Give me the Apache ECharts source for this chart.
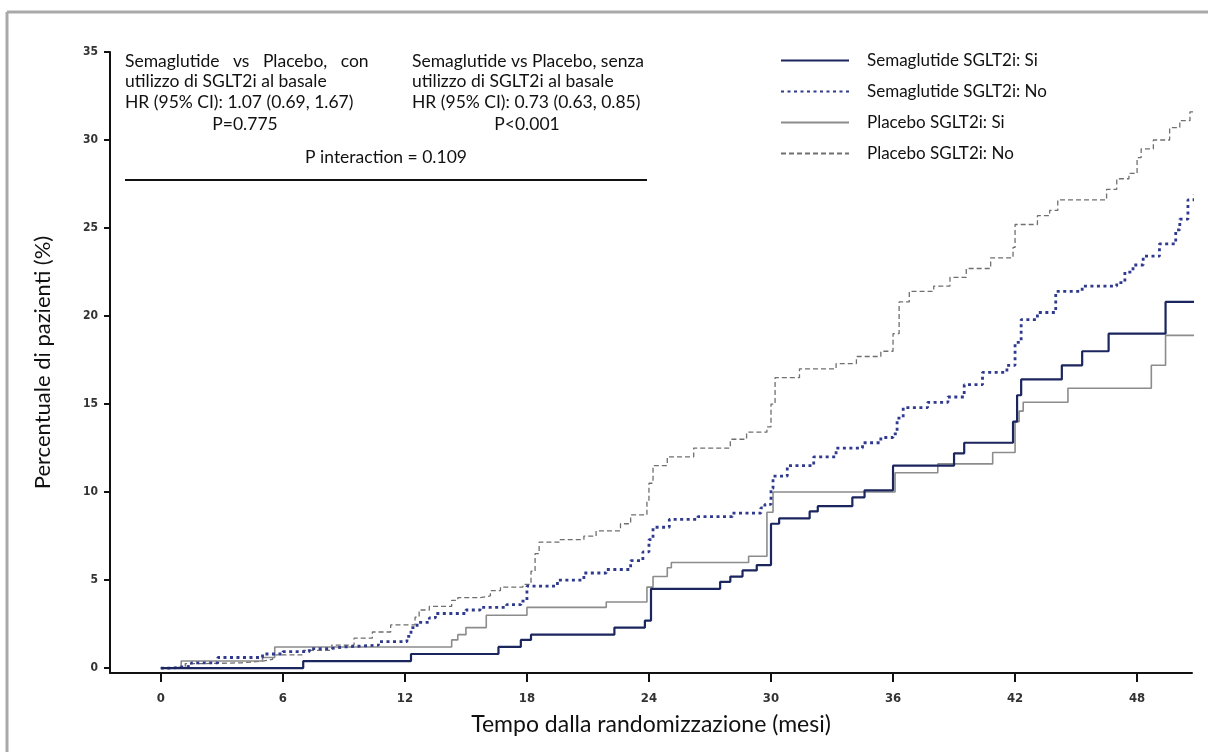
<!DOCTYPE html>
<html>
<head>
<meta charset="utf-8">
<script src="https://cdn.jsdelivr.net/npm/echarts@6/dist/echarts.min.js"></script>
<style>
html,body{margin:0;padding:0;background:#fff;}
#chart{width:1208px;height:752px;}
</style>
</head>
<body>
<div id="chart"></div>
<script>
// ---- Data (months, cumulative % of patients) ----
var seriesNames = ['Semaglutide SGLT2i: Si', 'Semaglutide SGLT2i: No', 'Placebo SGLT2i: Si', 'Placebo SGLT2i: No'];
var xTicks = [0, 6, 12, 18, 24, 30, 36, 42, 48];
var yTicks = [0, 5, 10, 15, 20, 25, 30, 35];

var semaSi = [[0,0],[7.0,0.4],[12.3,0.8],[16.6,1.2],[17.7,1.6],[18.2,1.9],[22.3,2.3],[23.8,2.7],[24.1,4.5],[27.5,4.9],[28.0,5.2],[28.6,5.55],[29.3,5.85],[30.0,8.2],[30.4,8.5],[31.9,8.9],[32.3,9.2],[34.0,9.7],[34.6,10.1],[36.0,11.5],[39.0,12.2],[39.5,12.8],[41.9,14.0],[42.1,15.5],[42.3,16.4],[44.3,17.2],[45.3,18.0],[46.6,19.0],[49.4,20.8],[50.8,20.8]];

var semaNo = [[0,0],[0.5,0.1],[1.5,0.3],[2.8,0.6],[5.0,0.8],[6.0,0.93],[7.3,1.1],[8.3,1.2],[9.0,1.3],[10.7,1.5],[12.1,1.8],[12.3,2.3],[12.6,2.6],[13.2,2.85],[13.5,3.1],[15.0,3.3],[15.7,3.45],[17.0,3.6],[17.7,3.8],[18.0,4.65],[19.5,5.0],[20.8,5.4],[21.9,5.6],[23.1,6.1],[23.7,6.6],[24.0,7.3],[24.2,8.0],[25.0,8.45],[26.4,8.6],[28.1,8.8],[29.5,9.1],[29.7,9.3],[30.0,10.2],[30.1,10.9],[30.8,11.5],[32.1,12.0],[33.2,12.5],[34.5,12.8],[35.4,13.1],[36.0,13.3],[36.2,14.2],[36.5,14.8],[37.7,15.1],[38.7,15.4],[39.5,16.1],[40.4,16.8],[41.6,17.2],[42.0,18.5],[42.3,19.8],[43.1,20.2],[44.0,21.4],[45.3,21.7],[47.0,21.9],[47.4,22.5],[47.8,22.9],[48.3,23.4],[49.1,24.1],[49.9,24.9],[50.1,25.5],[50.5,26.6],[50.8,26.9]];

var placeboSi = [[0,0],[1.0,0.4],[5.0,0.6],[5.6,1.2],[14.3,1.6],[14.6,1.9],[15.0,2.3],[16.0,3.0],[18.0,3.45],[21.9,3.75],[23.9,4.6],[24.2,5.2],[24.9,5.7],[25.1,6.0],[28.9,6.35],[29.8,8.85],[30.1,10.0],[36.1,11.1],[38.2,11.6],[40.9,12.25],[42.0,14.0],[42.2,14.6],[42.4,15.1],[44.6,15.9],[48.7,17.2],[49.4,18.9],[50.8,18.9]];

var placeboNo = [[0,0],[0.6,0.1],[1.2,0.25],[2.0,0.3],[4.0,0.4],[5.0,0.5],[5.5,0.75],[7.0,1.0],[8.4,1.3],[9.5,1.7],[10.4,2.05],[11.3,2.45],[12.5,2.9],[12.7,3.3],[13.2,3.5],[14.3,3.85],[14.6,4.0],[15.7,4.1],[16.2,4.4],[16.7,4.6],[17.8,4.75],[18.2,5.5],[18.4,6.5],[18.6,7.15],[19.6,7.3],[20.8,7.5],[21.4,7.8],[22.6,8.2],[23.1,8.7],[23.9,9.5],[24.0,10.5],[24.2,11.5],[24.9,12.0],[26.2,12.5],[28.0,13.0],[28.8,13.4],[29.8,13.7],[30.0,15.0],[30.2,16.5],[31.4,17.0],[33.2,17.3],[34.2,17.7],[35.4,18.0],[36.0,19.0],[36.3,20.8],[36.8,21.4],[38.0,21.7],[38.8,22.2],[39.6,22.7],[40.8,23.3],[41.9,23.9],[42.0,25.2],[43.1,25.7],[43.7,26.0],[44.1,26.6],[46.0,26.6],[46.5,27.2],[47.0,27.8],[47.6,28.1],[48.0,29.0],[48.2,29.5],[48.8,30.0],[49.6,30.7],[50.1,31.1],[50.6,31.6],[50.8,31.6]];

// ---- Chart ----
var FONT = 'Lato, "Open Sans", sans-serif';
var AXFONT = '"Liberation Sans Narrow", "DejaVu Sans Condensed", "Liberation Sans", sans-serif';
var chart = echarts.init(document.getElementById('chart'), null, {renderer: 'canvas'});

function mk(name, data, color, width, type, z) {
  return {
    name: name, type: 'line', step: 'end', data: data,
    showSymbol: false, symbol: 'none', animation: false, z: z,
    lineStyle: {color: color, width: width, type: type},
    itemStyle: {color: color}
  };
}

var option = {
  backgroundColor: '#ffffff',
  animation: false,
  grid: {left: 110, right: 16, top: 52, bottom: 79, containLabel: false},
  legend: {
    show: true,
    orient: 'vertical', left: 775, top: 47,
    itemWidth: 68, itemHeight: 14, itemGap: 14,
    itemStyle: {opacity: 0},
    textStyle: {fontFamily: FONT, fontSize: 17, color: '#111', padding: [0, 0, 0, 13]},
    data: seriesNames
  },
  xAxis: {
    type: 'value', min: -2.5, max: 50.7,
    name: 'Tempo dalla randomizzazione (mesi)', nameLocation: 'middle', nameGap: 40,
    nameTextStyle: {fontFamily: FONT, fontSize: 23, color: '#111'},
    axisLine: {show: true, onZero: false, lineStyle: {color: '#111', width: 2}},
    axisTick: {show: true, length: 9, customValues: xTicks, lineStyle: {color: '#111', width: 2}},
    axisLabel: {customValues: xTicks, margin: 19, fontFamily: AXFONT, fontSize: 13, fontWeight: 'bold', color: '#333'},
    splitLine: {show: false}
  },
  yAxis: {
    type: 'value', min: -0.28, max: 35,
    name: 'Percentuale di pazienti (%)', nameLocation: 'middle', nameGap: 56, nameRotate: 90,
    nameTextStyle: {fontFamily: FONT, fontSize: 22, color: '#111'},
    axisLine: {show: true, onZero: false, lineStyle: {color: '#111', width: 2}},
    axisTick: {show: true, length: 6, customValues: yTicks, lineStyle: {color: '#111', width: 2}},
    axisLabel: {customValues: yTicks, margin: 12, fontFamily: AXFONT, fontSize: 12, fontWeight: 'bold', color: '#333'},
    splitLine: {show: false}
  },
  series: [
    mk(seriesNames[3], placeboNo, '#6f6f6f', 1.3, [5, 3], 2),
    mk(seriesNames[2], placeboSi, '#8c8c8c', 1.6, 'solid', 3),
    mk(seriesNames[1], semaNo, '#2f3a8e', 2.8, [3, 3.5], 4),
    mk(seriesNames[0], semaSi, '#1b255e', 2.2, 'solid', 5)
  ],
  graphic: [
    {type: 'line', shape: {x1: 7, y1: 12, x2: 1208, y2: 12}, style: {stroke: '#a9a9a9', lineWidth: 3}, silent: true},
    {type: 'line', shape: {x1: 7, y1: 12, x2: 7, y2: 752}, style: {stroke: '#a9a9a9', lineWidth: 3}, silent: true},
    {type: 'text', left: 125, top: 51, style: {text: 'Semaglutide   vs   Placebo,   con\nutilizzo di SGLT2i al basale\nHR (95% CI): 1.07 (0.69, 1.67)', font: '17.5px ' + FONT, fill: '#111', lineHeight: 20.5}},
    {type: 'text', x: 245, y: 124, style: {text: 'P=0.775', font: '17.5px ' + FONT, fill: '#111', align: 'center', verticalAlign: 'middle'}},
    {type: 'text', left: 412, top: 51, style: {text: 'Semaglutide vs Placebo, senza\nutilizzo di SGLT2i al basale\nHR (95% CI): 0.73 (0.63, 0.85)', font: '17.5px ' + FONT, fill: '#111', lineHeight: 20.5}},
    {type: 'text', x: 527, y: 124, style: {text: 'P<0.001', font: '17.5px ' + FONT, fill: '#111', align: 'center', verticalAlign: 'middle'}},
    {type: 'text', x: 386, y: 157, style: {text: 'P interaction = 0.109', font: '17.5px ' + FONT, fill: '#111', align: 'center', verticalAlign: 'middle'}},
    {type: 'line', shape: {x1: 125, y1: 180, x2: 647, y2: 180}, style: {stroke: '#111', lineWidth: 2}, silent: true}
  ]
};
chart.setOption(option);
</script>
</body>
</html>
